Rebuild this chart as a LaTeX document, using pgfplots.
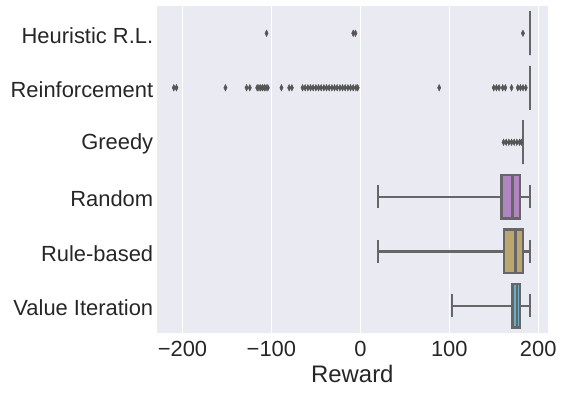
\documentclass[border=0pt]{standalone}
\usepackage{fontspec}
\setmainfont{Liberation Sans}
\usepackage{pgfplots}
\pgfplotsset{compat=1.18}
\usepgfplotslibrary{statistics}
\definecolor{bgc}{RGB}{234,234,242}
\definecolor{lgray}{RGB}{102,102,102}
\definecolor{fgray}{RGB}{85,85,85}
\definecolor{cpurple}{RGB}{176,133,193}
\definecolor{ctan}{RGB}{187,166,111}
\definecolor{ccyan}{RGB}{104,174,203}
\begin{document}
\begin{tikzpicture}
\useasboundingbox (0,0) rectangle (562bp,394bp);
\begin{axis}[
  at={(156.7bp,61bp)},
  scale only axis,
  width=391.3bp, height=327bp,
  xmin=-229, xmax=211,
  ymin=0.5, ymax=6.5, y dir=reverse,
  axis background/.style={fill=bgc},
  axis line style={draw=none},
  major tick length=0pt,
  xmajorgrids, ymajorgrids=false,
  grid style={white, line width=1.2bp},
  xtick={-200,-100,0,100,200},
  xticklabels={−200,−100,0,100,200},
  ytick={1,2,3,4,5,6},
  yticklabels={Heuristic R.L.,Reinforcement,Greedy,Random,Rule-based,Value Iteration},
  tick label style={font=\fontsize{22}{26}\selectfont, text=black!85},
  xticklabel style={yshift=-5bp},
  yticklabel style={yshift=-2bp},
  xlabel={Reward},
  xlabel style={font=\fontsize{24}{28}\selectfont, text=black!85, yshift=-1bp},
  boxplot/draw direction=x,
  boxplot/box extend=0.8,
  boxplot/whisker extend=0.42,
  clip=false,
]
% Heuristic R.L.
\addplot[boxplot prepared={lower whisker=190.7, lower quartile=190.7, median=190.7, upper quartile=190.7, upper whisker=190.7, draw position=1}, draw=lgray, line width=2.5bp, fill=bgc] coordinates {};
% Reinforcement
\addplot[boxplot prepared={lower whisker=190.7, lower quartile=190.7, median=190.7, upper quartile=190.7, upper whisker=190.7, draw position=2}, draw=lgray, line width=2.5bp, fill=bgc] coordinates {};
% Greedy
\addplot[boxplot prepared={lower whisker=182.8, lower quartile=182.8, median=182.8, upper quartile=182.8, upper whisker=182.8, draw position=3}, draw=lgray, line width=2.5bp, fill=bgc] coordinates {};
% Random
\addplot[boxplot prepared={lower whisker=19.7, lower quartile=158.8, median=171.2, upper quartile=179.4, upper whisker=190.7, draw position=4}, draw=lgray, line width=2.5bp, fill=cpurple] coordinates {};
% Rule-based
\addplot[boxplot prepared={lower whisker=19.7, lower quartile=161.8, median=174.6, upper quartile=182.8, upper whisker=190.7, draw position=5}, draw=lgray, line width=2.5bp, fill=ctan] coordinates {};
% Value Iteration
\addplot[boxplot prepared={lower whisker=102.9, lower quartile=171.2, median=176.0, upper quartile=179.4, upper whisker=190.7, draw position=6}, draw=lgray, line width=2.5bp, fill=ccyan] coordinates {};
% outliers
\pgfplotsset{flier/.style={only marks, mark=diamond*, mark size=3.3bp, mark options={xscale=0.66, fill=fgray, draw=fgray, line width=0.4bp}}}
\addplot[flier] coordinates {(-105.5,1) (-8,1) (-5.5,1) (182.8,1)};
\addplot[flier] coordinates {
(-209.8,2) (-206.8,2) (-151.7,2) (-128,2) (-124.3,2)
(-116,2) (-114,2) (-112,2) (-110,2) (-108,2) (-106,2) (-104,2)
(-88.7,2) (-80,2) (-77,2)
(-65,2) (-62,2) (-59,2) (-56,2) (-53,2) (-50,2) (-47,2) (-44,2) (-41,2) (-38,2) (-35,2)
(-32,2) (-29,2) (-26,2) (-23,2) (-20,2) (-17,2) (-14,2) (-11,2) (-8,2) (-5,2) (-3,2)
(88.6,2) (150,2) (153,2) (156,2) (160,2) (163,2) (170,2) (177,2) (180,2) (183,2) (186,2)};
\addplot[flier] coordinates {(161,3) (164,3) (167,3) (170,3) (173,3) (176,3) (179,3) (181,3)};
\end{axis}
\end{tikzpicture}
\end{document}
